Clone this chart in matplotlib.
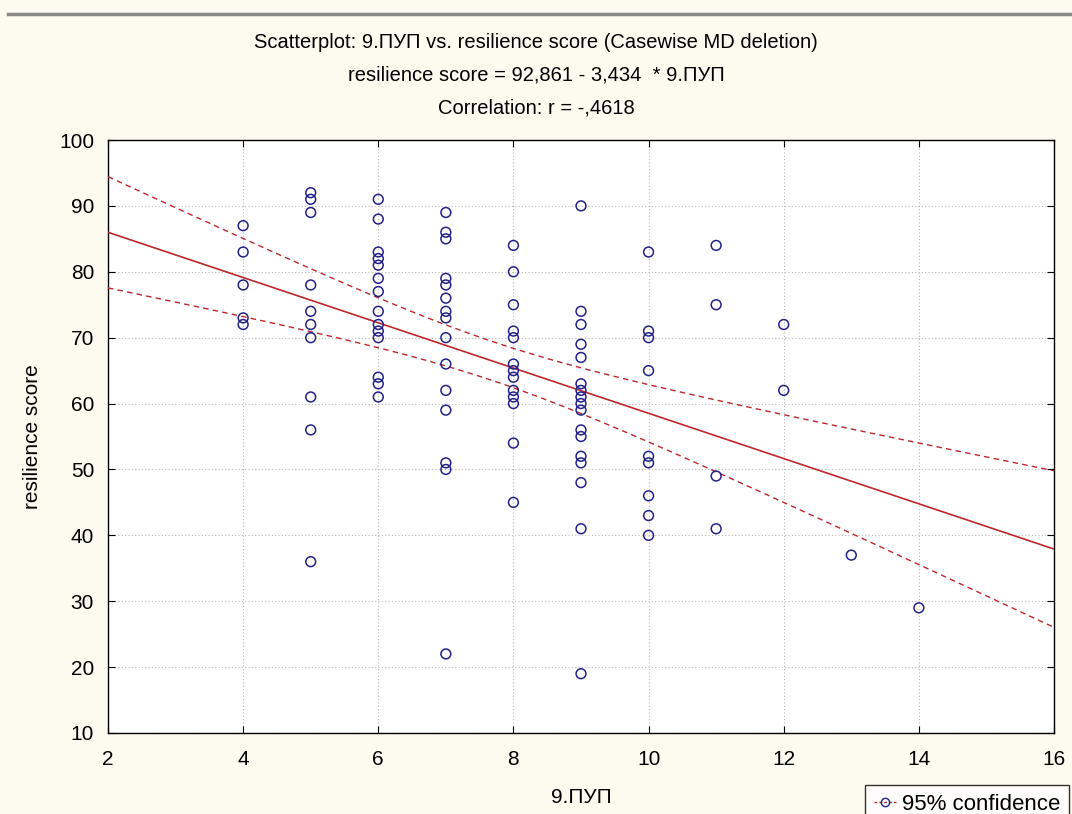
import numpy as np
import matplotlib
matplotlib.use("Agg")
import matplotlib.pyplot as plt
from matplotlib.lines import Line2D

# ---- data ----
x4 = [87, 83, 78, 73, 72]
x5 = [92, 91, 89, 78, 74, 72, 70, 61, 56, 36]
x6 = [91, 88, 83, 82, 81, 79, 77, 74, 72, 71, 70, 64, 63, 61]
x7 = [89, 86, 85, 79, 78, 76, 74, 73, 70, 66, 62, 59, 51, 50, 22]
x8 = [84, 80, 75, 71, 70, 66, 65, 64, 62, 61, 60, 54, 45]
x9 = [90, 74, 72, 69, 67, 63, 62, 61, 60, 59, 56, 55, 52, 51, 48, 41, 19]
x10 = [83, 71, 70, 65, 52, 51, 46, 43, 40]
x11 = [84, 75, 49, 41]
x12 = [72, 62]
x13 = [37]
x14 = [29]
groups = {4: x4, 5: x5, 6: x6, 7: x7, 8: x8, 9: x9, 10: x10,
          11: x11, 12: x12, 13: x13, 14: x14}
intercept = 92.861
slope = -3.434
xticks = [2, 4, 6, 8, 10, 12, 14, 16]
yticks = [10, 20, 30, 40, 50, 60, 70, 80, 90, 100]

xs = np.concatenate([[k] * len(v) for k, v in groups.items()]).astype(float)
ys = np.concatenate([v for v in groups.values()]).astype(float)

plt.rcParams['font.family'] = ['Liberation Sans', 'DejaVu Sans']

W, H = 1072, 814
fig = plt.figure(figsize=(W / 100, H / 100), dpi=100)
bg = '#FDFAF0'
fig.patch.set_facecolor(bg)
ax = fig.add_axes([108 / W, 1 - 733 / H, (1054 - 108) / W, (733 - 140) / H])
ax.set_facecolor('white')

# top gray bar
fig.add_artist(Line2D([8 / W, 1], [1 - 14 / H, 1 - 14 / H], color='#8a8a8a', lw=2.5,
                      transform=fig.transFigure))

# regression + confidence bands
n = len(xs)
xm = xs.mean()
sxx = ((xs - xm) ** 2).sum()
resid = ys - (intercept + slope * xs)
s = np.sqrt((resid ** 2).sum() / (n - 2))
tval = 1.99
xx = np.linspace(2, 16, 200)
yy = intercept + slope * xx
hw = tval * s * np.sqrt(1 / n + (xx - xm) ** 2 / sxx)
ax.plot(xx, yy, color='#C0272D', lw=1.2, zorder=3)
ax.plot(xx, yy + hw, color='#C0272D', lw=1.0, ls=(0, (4, 3)), zorder=3)
ax.plot(xx, yy - hw, color='#C0272D', lw=1.0, ls=(0, (4, 3)), zorder=3)

ax.scatter(xs, ys, s=50, facecolors='none', edgecolors='#22228a', linewidths=1.1, zorder=4)

ax.set_xlim(2, 16)
ax.set_ylim(10, 100)
ax.set_xticks(xticks)
ax.set_yticks(yticks)
ax.grid(True, color='#b8b8b8', ls=(0, (1, 2)), lw=0.8)
ax.tick_params(direction='in', top=True, right=True, labelsize=15, length=5)
ax.tick_params(axis='x', pad=12)
ax.tick_params(axis='y', pad=10)
for sp in ax.spines.values():
    sp.set_linewidth(1.0)
    sp.set_color('black')

ax.set_xlabel('9.ПУП', fontsize=15, labelpad=14)
ax.set_ylabel('resilience score', fontsize=15, labelpad=12)

fig.text(0.5, 1 - 43 / H, 'Scatterplot: 9.ПУП vs. resilience score (Casewise MD deletion)',
         ha='center', va='center', fontsize=14.5)
fig.text(0.5, 1 - 75 / H, 'resilience score = 92,861 - 3,434  * 9.ПУП',
         ha='center', va='center', fontsize=14.5)
fig.text(0.5, 1 - 108 / H, 'Correlation: r = -,4618',
         ha='center', va='center', fontsize=14.5)

# legend box
lg = Line2D([0], [0], color='#C0272D', ls=(0, (2, 1.5)), lw=1.0, marker='o',
            markerfacecolor='none', markeredgecolor='#22228a', markersize=6)
leg = fig.legend([lg], ['95% confidence'], loc='lower left',
                 bbox_to_anchor=(865 / W, -10 / H), fontsize=16, frameon=True,
                 fancybox=False, edgecolor='black', handlelength=1.0,
                 handletextpad=0.25, borderpad=0.4, borderaxespad=0)
leg.get_frame().set_linewidth(1.0)
leg.get_frame().set_facecolor('white')

fig.savefig('out.png', dpi=100, facecolor=bg)
